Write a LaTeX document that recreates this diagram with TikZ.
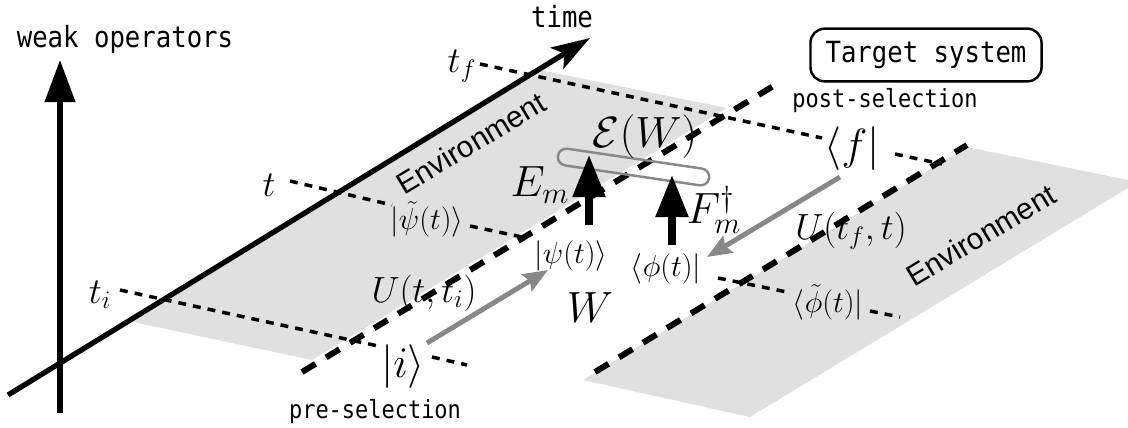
\documentclass[tikz,border=0pt]{standalone}
\usepackage{fontspec}
\setmonofont{DejaVu Sans Mono}[FakeStretch=0.88]
\newfontfamily\envfont{Liberation Sans}
\usetikzlibrary{arrows.meta}
\definecolor{planegray}{HTML}{E0E0E0}
\definecolor{arrgray}{HTML}{888888}
\newcommand{\fsz}[1]{\fontsize{#1}{#1}\selectfont}
\begin{document}
\begin{tikzpicture}[x=0.02cm,y=-0.02cm,
  plane/.style={fill=planegray, draw=none},
  thickdash/.style={line width=3.4pt, dash pattern=on 9pt off 7pt},
  thindot/.style={line width=2pt, dash pattern=on 4.5pt off 4pt},
  axisline/.style={line width=3pt},
  greyarrow/.style={line width=2.8pt, draw=arrgray, -{Stealth[length=14pt,width=11pt,inset=2pt,fill=arrgray]}},
  blackarrow/.style={line width=4pt, -{Triangle[length=24pt,width=18pt]}},
  monobig/.style={font=\ttfamily\fsz{16.6pt}, inner sep=0pt},
  monosmall/.style={font=\ttfamily\fsz{14.2pt}, inner sep=0pt},
  envlabel/.style={font=\envfont\fsz{17pt}, inner sep=0pt, rotate=31},
  mfont/.style={font=\fsz{#1}, inner sep=0pt}
]
\useasboundingbox (0,0) rectangle (1128,427);
% planes
\fill[plane] (133,322) -- (540,70) -- (727,108) -- (312,360) -- cycle;
\fill[plane] (583,380) -- (967,147) -- (1128,180) -- (1128,188) -- (750,417) -- cycle;
% coordinates of dotted time lines
\coordinate (tfa) at (480,64);  \coordinate (tfb) at (822,138);
\coordinate (tfc) at (895,154); \coordinate (tfd) at (942,164);
\coordinate (tta) at (290,181); \coordinate (ttb) at (392,205);
\coordinate (ttc) at (470,226); \coordinate (ttd) at (522,237);
\coordinate (tte) at (718,278); \coordinate (ttf) at (787,292);
\coordinate (ttg) at (870,311); \coordinate (tth) at (900,317);
\coordinate (tia) at (120,290); \coordinate (tib) at (378,346);
\coordinate (tic) at (432,357); \coordinate (tid) at (467,365);
\draw[thindot] (tfa) -- (tfb);
\draw[thindot] (tfc) -- (tfd);
\draw[thindot] (tta) -- (ttb);
\draw[thindot] (ttc) -- (ttd);
\draw[thindot] (tte) -- (ttf);
\draw[thindot] (ttg) -- (tth);
\draw[thindot] (tia) -- (tib);
\draw[thindot] (tic) -- (tid);
% thick dashed boundaries
\coordinate (da) at (302,372); \coordinate (db) at (775,85);
\coordinate (dc) at (595,372); \coordinate (dd) at (967,145);
\draw[thickdash] (da) -- (db);
\draw[thickdash] (dc) -- (dd);
% axes
\coordinate (ta0) at (8,395); \coordinate (ta1) at (590,38);
\draw[axisline, -{Stealth[length=22pt,width=14pt,inset=5pt]}] (ta0) -- (ta1);
\coordinate (wa0) at (60,413); \coordinate (wa1) at (60,60);
\draw[axisline, -{Triangle[length=24pt,width=17pt]}] (wa0) -- (wa1);
% capsule
\node[draw=arrgray, line width=1.4pt, rounded corners=4.8pt, minimum width=87pt, minimum height=9.6pt, rotate=-8.4, inner sep=0pt] (caps) at (633.5,167) {};
% black operator arrows
\coordinate (ea0) at (589,225); \coordinate (ea1) at (589,155);
\coordinate (fa0) at (672,245); \coordinate (fa1) at (672,175);
\draw[blackarrow] (ea0) -- (ea1);
\draw[blackarrow] (fa0) -- (fa1);
% grey evolution arrows
\coordinate (ga0) at (427,343); \coordinate (ga1) at (548,270);
\coordinate (gb0) at (840,177); \coordinate (gb1) at (707,257);
\draw[greyarrow] (ga0) -- (ga1);
\draw[greyarrow] (gb0) -- (gb1);
% text labels
\node[monobig, anchor=base] (weak) at (125,47) {weak operators};
\node[monobig, anchor=base] (time) at (562,27) {time};
\node[monobig, draw, line width=1.4pt, rounded corners=8pt, minimum width=131.5pt, minimum height=30pt] (target) at (926,55) {Target system};
\node[monosmall, anchor=base] (post) at (885,107) {post-selection};
\node[monosmall, anchor=base] (pre) at (375,418) {pre-selection};
\node[envlabel] (envL) at (471,143) {Environment};
\node[envlabel] (envR) at (981,235) {Environment};
% math labels
\node[mfont=22pt] (tf) at (462,66) {$t_f$};
\node[mfont=21pt] (t) at (269,185) {$t$};
\node[mfont=22pt] (ti) at (100,295) {$t_i$};
\node[mfont=24pt] (f) at (852,149) {$\langle f|$};
\node[mfont=26pt] (i) at (403,367) {$|i\rangle$};
\node[mfont=17pt] (psitilde) at (427,219) {$|\tilde{\psi}(t)\rangle$};
\node[mfont=18pt] (psi) at (571,256) {$|\psi(t)\rangle$};
\node[mfont=18pt] (phi) at (666,269) {$\langle\phi(t)|$};
\node[mfont=17pt] (phitilde) at (828,302) {$\langle\tilde{\phi}(t)|$};
\node[mfont=20pt] (Uti) at (424,293) {$U(t,t_i)$};
\node[mfont=20pt] (Utf) at (851,231) {$U(t_f,t)$};
\node[mfont=26pt] (W) at (590,308) {$W$};
\node[mfont=24pt] (Em) at (540,185) {$E_m$};
\node[mfont=23pt] (Fm) at (714,210) {$F_m^\dagger$};
\node[mfont=25pt] (EW) at (645,137) {$\mathcal{E}(W)$};
\end{tikzpicture}
\end{document}
